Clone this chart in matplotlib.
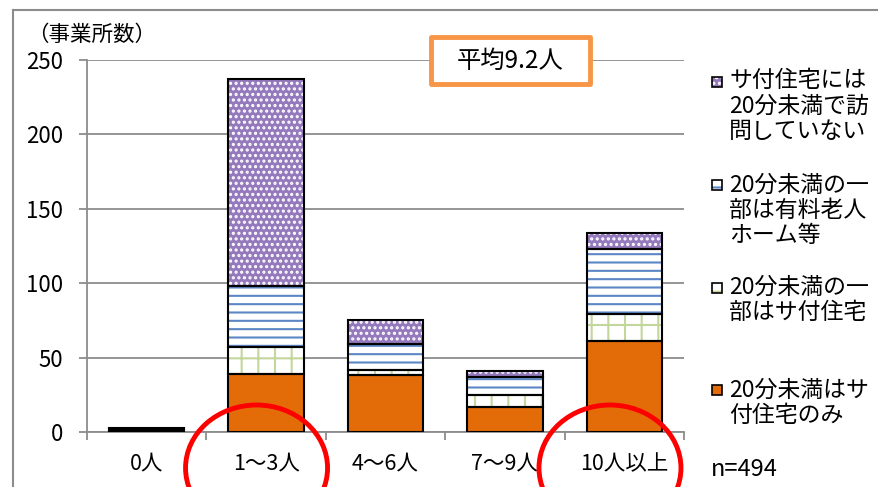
import numpy as np
import matplotlib.pyplot as plt
from matplotlib.patches import Rectangle, Ellipse
from matplotlib.lines import Line2D

plt.rcParams['font.family'] = ['Noto Sans CJK JP', 'DejaVu Sans']
plt.rcParams['hatch.linewidth'] = 1.5

# データ（事業所数）
categories = ['0人', '1～3人', '4～6人', '7～9人', '10人以上']
only_satsuki = [1, 39, 38, 17, 61]     # 20分未満はサ付住宅のみ
part_satsuki = [0, 18, 4, 8, 18]       # 20分未満の一部はサ付住宅
part_yuryo = [1, 41, 17, 12, 44]       # 20分未満の一部は有料老人ホーム等
no_visit = [1, 139, 16, 4, 11]         # サ付住宅には20分未満で訪問していない

labels = ['20分未満はサ\n付住宅のみ',
          '20分未満の一\n部はサ付住宅',
          '20分未満の一\n部は有料老人\nホーム等',
          'サ付住宅には\n20分未満で訪\n問していない']

# 塗り, ハッチ, ハッチ色
styles = [('#E36C09', None, '#E36C09'),
          ('white', '+', '#C3D69B'),
          ('white', '--', '#5B87C4'),
          ('#9479BC', '...', 'white')]

W, H = 879, 487
def fx(x):
    return x / W
def fy(y):
    return 1 - y / H

fig = plt.figure(figsize=(W / 100, H / 100), dpi=100)
ax = fig.add_axes([fx(87), fy(432), fx(684) - fx(87), fy(60) - fy(432)])

x = np.arange(len(categories))
w = 0.63
bottom = np.zeros(len(categories))
for vals, (fc, hatch, hc) in zip([only_satsuki, part_satsuki, part_yuryo, no_visit], styles):
    vals = np.array(vals)
    ax.bar(x, vals, w, bottom=bottom, color=fc, hatch=hatch, edgecolor=hc, linewidth=0, zorder=2)
    ax.bar(x, vals, w, bottom=bottom, fill=False, edgecolor='black', linewidth=1.5, zorder=3)
    bottom += vals

gray = '#8c8c8c'
ax.set_xlim(-0.5, len(categories) - 0.5)
ax.set_ylim(0, 250)
ax.set_yticks(range(0, 251, 50))
ax.grid(axis='y', color=gray, linewidth=1.3)
ax.set_axisbelow(True)
for s in ['top', 'right']:
    ax.spines[s].set_visible(False)
for s in ['left', 'bottom']:
    ax.spines[s].set_color(gray)
    ax.spines[s].set_linewidth(1.3)
ax.tick_params(axis='y', length=6, color=gray, width=1.3, labelsize=16, pad=11)
ax.set_xticks(x)
ax.set_xticklabels(categories)
ax.set_xticks(np.arange(-0.5, len(categories), 1), minor=True)
ax.tick_params(axis='x', which='major', length=0, labelsize=15.5, pad=15)
ax.tick_params(axis='x', which='minor', length=6, color=gray, width=1.3)

# 外枠
fig.add_artist(Line2D([fx(13), fx(13)], [fy(10), 0], color=gray, lw=1.5))
fig.add_artist(Line2D([fx(13), 1], [fy(10), fy(10)], color=gray, lw=1.5))

fig.text(fx(27), fy(35), '（事業所数）', fontsize=15.5, va='center')

# 平均
fig.add_artist(Rectangle((fx(431), fy(84)), fx(590) - fx(431), fy(37) - fy(84),
                         facecolor='white', edgecolor='#F79646', linewidth=3.5,
                         joinstyle='round', transform=fig.transFigure))
fig.text(fx(510), fy(61), '平均9.2人', fontsize=17.5, ha='center', va='center')

fig.text(fx(711), fy(470), 'n=494', fontsize=17, va='center')

# 凡例
leg_first = [390, 288, 185, 82]
leg_center = [403, 300, 210, 106]
for (fc, hatch, hc), lab, y1, yc in zip(styles, labels, leg_first, leg_center):
    fig.add_artist(Rectangle((fx(712), fy(y1 + 5)), 10 / W, 10 / H, facecolor=fc, hatch=hatch,
                             edgecolor=hc, linewidth=0, transform=fig.transFigure))
    fig.add_artist(Rectangle((fx(712), fy(y1 + 5)), 10 / W, 10 / H, fill=False,
                             edgecolor='black', linewidth=1.2, transform=fig.transFigure))
    fig.text(fx(729), fy(yc), lab, fontsize=16.5, va='center', linespacing=1.12)

# 赤丸
px_per_cat = (684 - 87) / len(categories)
px_per_unit = (432 - 60) / 250
for cx in [0.92, 3.88]:
    ax.add_patch(Ellipse((cx, -36 / px_per_unit), 142 / px_per_cat, 126 / px_per_unit,
                         fill=False, edgecolor='#FF0000', linewidth=3.5, clip_on=False, zorder=5))

fig.savefig('out.png', dpi=100)
